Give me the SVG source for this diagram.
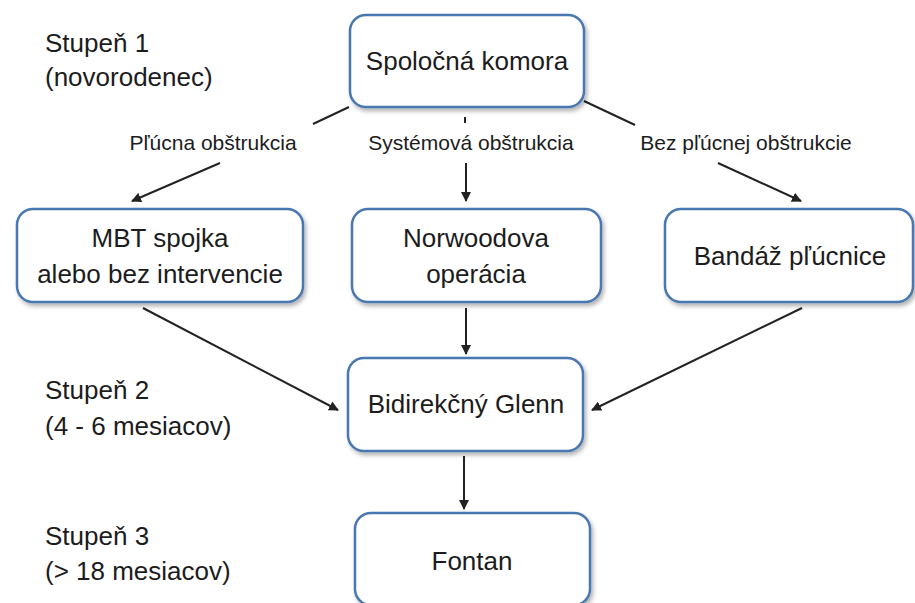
<svg xmlns="http://www.w3.org/2000/svg" width="915" height="603" viewBox="0 0 915 603">
<defs>
<filter id="sh" x="-10%" y="-10%" width="125%" height="130%">
<feDropShadow dx="2" dy="3" stdDeviation="2" flood-color="#000" flood-opacity="0.3"/>
</filter>
<marker id="ah" viewBox="0 0 10 10" refX="9" refY="5" markerWidth="5" markerHeight="5" orient="auto" markerUnits="strokeWidth">
<path d="M0,0 L10,5 L0,10 z" fill="#222"/>
</marker>
<style>
.box{fill:#fff;stroke:#4a77b0;stroke-width:2.5;filter:url(#sh)}
.t{font-family:"Liberation Sans",Arial,sans-serif;font-size:26px;fill:#1c1c1c}
.c{text-anchor:middle}
.el{font-family:"Liberation Sans",Arial,sans-serif;font-size:21px;fill:#1c1c1c;text-anchor:middle}
.ln{stroke:#222;stroke-width:2;fill:none}
.ar{stroke:#222;stroke-width:2;fill:none;marker-end:url(#ah)}
</style>
</defs>
<rect width="915" height="603" fill="#fff"/>
<g id="stages">
<text class="t" x="45" y="52">Stupeň 1</text>
<text class="t" x="45" y="86">(novorodenec)</text>
<text class="t" x="45" y="399">Stupeň 2</text>
<text class="t" x="45" y="435">(4 - 6 mesiacov)</text>
<text class="t" x="45" y="545">Stupeň 3</text>
<text class="t" x="45" y="580">(&gt; 18 mesiacov)</text>
</g>
<g id="connectors">
<line class="ln" x1="349" y1="107" x2="313" y2="124"/>
<line class="ar" x1="220" y1="163" x2="132" y2="201"/>
<line class="ln" x1="465" y1="117" x2="465" y2="123"/>
<line class="ar" x1="466" y1="163" x2="466" y2="201"/>
<line class="ln" x1="584" y1="101" x2="635" y2="125"/>
<line class="ar" x1="718" y1="163" x2="801" y2="201"/>
<line class="ar" x1="143" y1="308" x2="338" y2="410"/>
<line class="ar" x1="466" y1="308" x2="466" y2="354"/>
<line class="ar" x1="802" y1="308" x2="592" y2="410"/>
<line class="ar" x1="464" y1="456" x2="464" y2="509"/>
<text class="el" x="213" y="150">Pľúcna obštrukcia</text>
<text class="el" x="471" y="150">Systémová obštrukcia</text>
<text class="el" x="746" y="150">Bez pľúcnej obštrukcie</text>
</g>
<g id="n-spolocna">
<rect class="box" x="350" y="15" width="234" height="92" rx="16"/>
<text class="t c" x="467" y="70">Spoločná komora</text>
</g>
<g id="n-mbt">
<rect class="box" x="17" y="209" width="286" height="93" rx="16"/>
<text class="t c" x="160" y="247">MBT spojka</text>
<text class="t c" x="160" y="283">alebo bez intervencie</text>
</g>
<g id="n-norwood">
<rect class="box" x="352" y="209" width="249" height="93" rx="16"/>
<text class="t c" x="476" y="247">Norwoodova</text>
<text class="t c" x="476" y="283">operácia</text>
</g>
<g id="n-bandaz">
<rect class="box" x="665" y="209" width="248" height="93" rx="16"/>
<text class="t c" x="790" y="265">Bandáž pľúcnice</text>
</g>
<g id="n-glenn">
<rect class="box" x="348" y="358" width="235" height="93" rx="16"/>
<text class="t c" x="466" y="413">Bidirekčný Glenn</text>
</g>
<g id="n-fontan">
<rect class="box" x="355" y="513" width="235" height="92" rx="16"/>
<text class="t c" x="472" y="570">Fontan</text>
</g>
</svg>
